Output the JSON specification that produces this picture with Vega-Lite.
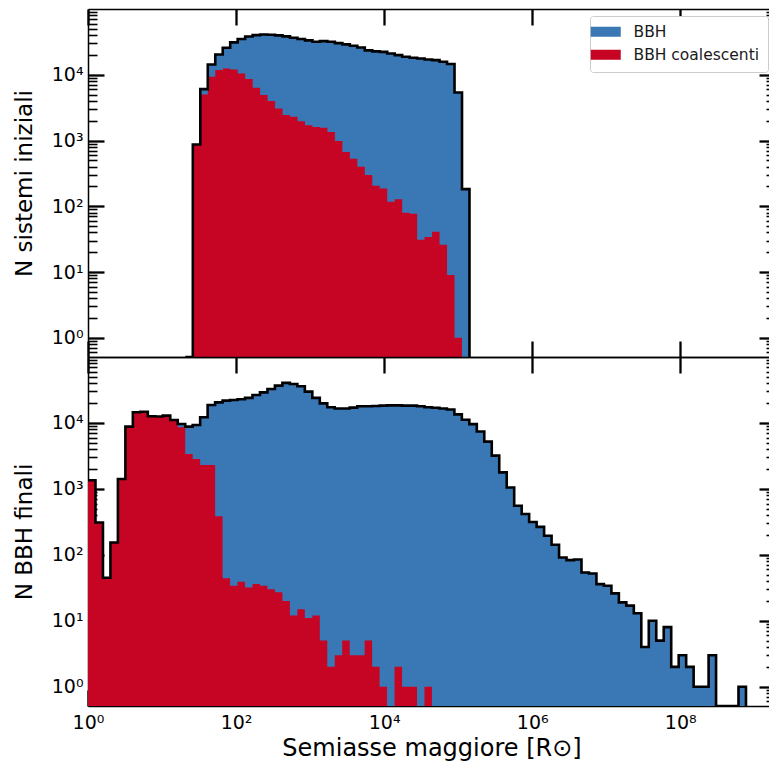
{
  "$schema": "https://vega.github.io/schema/vega-lite/v6.json",
  "padding": {"left": 13, "top": 7, "right": 0, "bottom": 5},
  "background": "white",
  "config": {
    "font": "DejaVu Sans",
    "view": {"stroke": null},
    "axis": {"domainColor": "black", "domainWidth": 1.5, "tickColor": "black", "labelFont": "DejaVu Sans", "titleFont": "DejaVu Sans", "labelFontSize": 19, "titleFontSize": 23, "titleFontWeight": "normal", "grid": false, "labelColor": "black", "titleColor": "black", "labelOverlap": false, "labelFlush": false}
  },
  "datasets": {
    "top": [
      {"k":-1,"lg":1.315,"all":0,"coal":0},
      {"k":0,"lg":1.416,"all":870,"coal":870},
      {"k":1,"lg":1.517,"all":6050,"coal":5000},
      {"k":2,"lg":1.618,"all":14350,"coal":9330},
      {"k":3,"lg":1.719,"all":20370,"coal":11790},
      {"k":4,"lg":1.82,"all":25770,"coal":12490},
      {"k":5,"lg":1.921,"all":31050,"coal":12040},
      {"k":6,"lg":2.022,"all":34900,"coal":10470},
      {"k":7,"lg":2.123,"all":38270,"coal":8600},
      {"k":8,"lg":2.224,"all":40100,"coal":6340},
      {"k":9,"lg":2.325,"all":41000,"coal":4910},
      {"k":10,"lg":2.426,"all":40600,"coal":3980},
      {"k":11,"lg":2.527,"all":39700,"coal":3070},
      {"k":12,"lg":2.628,"all":38300,"coal":2440},
      {"k":13,"lg":2.729,"all":36600,"coal":2300},
      {"k":14,"lg":2.83,"all":35000,"coal":1970},
      {"k":15,"lg":2.931,"all":33300,"coal":1710},
      {"k":16,"lg":3.032,"all":31800,"coal":1600},
      {"k":17,"lg":3.133,"all":32500,"coal":1560},
      {"k":18,"lg":3.234,"all":31800,"coal":1350},
      {"k":19,"lg":3.335,"all":30300,"coal":980},
      {"k":20,"lg":3.436,"all":29000,"coal":670},
      {"k":21,"lg":3.537,"all":27600,"coal":530},
      {"k":22,"lg":3.638,"all":26000,"coal":400},
      {"k":23,"lg":3.739,"all":23500,"coal":300},
      {"k":24,"lg":3.84,"all":22700,"coal":205},
      {"k":25,"lg":3.941,"all":22300,"coal":186},
      {"k":26,"lg":4.042,"all":21100,"coal":117},
      {"k":27,"lg":4.143,"all":19900,"coal":128},
      {"k":28,"lg":4.244,"all":18800,"coal":80},
      {"k":29,"lg":4.345,"all":18150,"coal":77},
      {"k":30,"lg":4.446,"all":17700,"coal":31},
      {"k":31,"lg":4.547,"all":17100,"coal":34},
      {"k":32,"lg":4.648,"all":16700,"coal":41},
      {"k":33,"lg":4.749,"all":15800,"coal":26},
      {"k":34,"lg":4.85,"all":14550,"coal":9},
      {"k":35,"lg":4.951,"all":5380,"coal":1},
      {"k":36,"lg":5.052,"all":182,"coal":0},
      {"k":37,"lg":5.153,"all":0,"coal":0}
    ],
    "bot": [
      {"k":0,"lg":0,"all":1350,"coal":1350},
      {"k":1,"lg":0.101,"all":310,"coal":310},
      {"k":2,"lg":0.202,"all":45,"coal":45},
      {"k":3,"lg":0.303,"all":154,"coal":154},
      {"k":4,"lg":0.404,"all":1410,"coal":1410},
      {"k":5,"lg":0.505,"all":8800,"coal":8800},
      {"k":6,"lg":0.606,"all":14500,"coal":14500},
      {"k":7,"lg":0.707,"all":14800,"coal":14800},
      {"k":8,"lg":0.808,"all":12600,"coal":12600},
      {"k":9,"lg":0.909,"all":12500,"coal":12500},
      {"k":10,"lg":1.01,"all":12900,"coal":12900},
      {"k":11,"lg":1.111,"all":11100,"coal":10800},
      {"k":12,"lg":1.212,"all":9660,"coal":8580},
      {"k":13,"lg":1.313,"all":8800,"coal":3380},
      {"k":14,"lg":1.414,"all":9300,"coal":2840},
      {"k":15,"lg":1.515,"all":12200,"coal":2300},
      {"k":16,"lg":1.616,"all":18700,"coal":2300},
      {"k":17,"lg":1.717,"all":20500,"coal":383},
      {"k":18,"lg":1.818,"all":21800,"coal":44},
      {"k":19,"lg":1.919,"all":22300,"coal":34},
      {"k":20,"lg":2.02,"all":22900,"coal":39},
      {"k":21,"lg":2.121,"all":24000,"coal":32},
      {"k":22,"lg":2.222,"all":26600,"coal":36},
      {"k":23,"lg":2.323,"all":29100,"coal":34},
      {"k":24,"lg":2.424,"all":32700,"coal":30},
      {"k":25,"lg":2.525,"all":36800,"coal":27},
      {"k":26,"lg":2.626,"all":40500,"coal":20},
      {"k":27,"lg":2.727,"all":38900,"coal":12},
      {"k":28,"lg":2.828,"all":36000,"coal":15},
      {"k":29,"lg":2.929,"all":29800,"coal":11},
      {"k":30,"lg":3.03,"all":24000,"coal":12},
      {"k":31,"lg":3.131,"all":19800,"coal":5},
      {"k":32,"lg":3.232,"all":17300,"coal":2},
      {"k":33,"lg":3.333,"all":16600,"coal":3},
      {"k":34,"lg":3.434,"all":16600,"coal":5},
      {"k":35,"lg":3.535,"all":17100,"coal":3},
      {"k":36,"lg":3.636,"all":17900,"coal":3},
      {"k":37,"lg":3.737,"all":17900,"coal":5},
      {"k":38,"lg":3.838,"all":18100,"coal":2},
      {"k":39,"lg":3.939,"all":18300,"coal":1},
      {"k":40,"lg":4.04,"all":18500,"coal":0},
      {"k":41,"lg":4.141,"all":18500,"coal":2},
      {"k":42,"lg":4.242,"all":18300,"coal":1},
      {"k":43,"lg":4.343,"all":18300,"coal":1},
      {"k":44,"lg":4.444,"all":17900,"coal":0},
      {"k":45,"lg":4.545,"all":17300,"coal":1},
      {"k":46,"lg":4.646,"all":17000,"coal":0},
      {"k":47,"lg":4.747,"all":16600,"coal":0},
      {"k":48,"lg":4.848,"all":16000,"coal":0},
      {"k":49,"lg":4.949,"all":13500,"coal":0},
      {"k":50,"lg":5.05,"all":11200,"coal":0},
      {"k":51,"lg":5.151,"all":9600,"coal":0},
      {"k":52,"lg":5.252,"all":7400,"coal":0},
      {"k":53,"lg":5.353,"all":5200,"coal":0},
      {"k":54,"lg":5.454,"all":3200,"coal":0},
      {"k":55,"lg":5.555,"all":1780,"coal":0},
      {"k":56,"lg":5.656,"all":1050,"coal":0},
      {"k":57,"lg":5.757,"all":556,"coal":0},
      {"k":58,"lg":5.858,"all":417,"coal":0},
      {"k":59,"lg":5.959,"all":315,"coal":0},
      {"k":60,"lg":6.06,"all":265,"coal":0},
      {"k":61,"lg":6.161,"all":195,"coal":0},
      {"k":62,"lg":6.262,"all":142,"coal":0},
      {"k":63,"lg":6.363,"all":91,"coal":0},
      {"k":64,"lg":6.464,"all":83,"coal":0},
      {"k":65,"lg":6.565,"all":85,"coal":0},
      {"k":66,"lg":6.666,"all":54,"coal":0},
      {"k":67,"lg":6.767,"all":52,"coal":0},
      {"k":68,"lg":6.868,"all":36,"coal":0},
      {"k":69,"lg":6.969,"all":34,"coal":0},
      {"k":70,"lg":7.07,"all":26,"coal":0},
      {"k":71,"lg":7.171,"all":19,"coal":0},
      {"k":72,"lg":7.272,"all":17,"coal":0},
      {"k":73,"lg":7.373,"all":13,"coal":0},
      {"k":74,"lg":7.474,"all":4,"coal":0},
      {"k":75,"lg":7.575,"all":10,"coal":0},
      {"k":76,"lg":7.676,"all":5,"coal":0},
      {"k":77,"lg":7.777,"all":8,"coal":0},
      {"k":78,"lg":7.878,"all":2,"coal":0},
      {"k":79,"lg":7.979,"all":3,"coal":0},
      {"k":80,"lg":8.08,"all":2,"coal":0},
      {"k":81,"lg":8.181,"all":1,"coal":0},
      {"k":82,"lg":8.282,"all":1,"coal":0},
      {"k":83,"lg":8.383,"all":3,"coal":0},
      {"k":84,"lg":8.484,"all":0,"coal":0},
      {"k":85,"lg":8.585,"all":0,"coal":0},
      {"k":86,"lg":8.686,"all":0,"coal":0},
      {"k":87,"lg":8.787,"all":1,"coal":0},
      {"k":88,"lg":8.888,"all":0,"coal":0}
    ]
  },
  "spacing": 0,
  "bounds": "flush",
  "resolve": {"legend": {"color": "independent"}},
  "vconcat": [
    {
      "width": 687,
      "height": 348,
      "data": {"name": "top"},
      "resolve": {"axis": {"x": "independent", "y": "independent"}},
      "layer": [
        {
          "mark": {"type": "area", "interpolate": "step-after", "clip": true, "opacity": 1},
          "encoding": {
            "x": {"field": "lg", "type": "quantitative", "scale": {"domain": [0, 9.28], "nice": false, "zero": false},
                  "axis": {"orient": "bottom", "values": [0,2,4,6,8], "labels": false, "title": null, "tickSize": -16, "tickWidth": 2.3}},
            "y": {"field": "all", "type": "quantitative", "scale": {"type": "log", "domain": [0.51, 100000], "nice": false, "clamp": true},
                  "axis": {"orient": "left", "values": [0.6,0.7,0.8,0.9,1,2,3,4,5,6,7,8,9,10,20,30,40,50,60,70,80,90,100,200,300,400,500,600,700,800,900,1000,2000,3000,4000,5000,6000,7000,8000,9000,10000,20000,30000,40000,50000,60000,70000,80000,90000],
                           "tickSize": {"condition": {"test": "indexof([1,10,100,1000,10000,100000], datum.value) >= 0", "value": -16}, "value": -9},
                           "tickWidth": {"condition": {"test": "indexof([1,10,100,1000,10000,100000], datum.value) >= 0", "value": 2.3}, "value": 1.6},
                           "labelFontSize": {"condition": {"test": "indexof([1,10,100,1000,10000], datum.value) >= 0", "value": 19}, "value": 0},
                           "labelPadding": 21,
                           "labelExpr": "indexof([1,10,100,1000,10000], datum.value) >= 0 ? '10' + ['⁰','¹','²','³','⁴'][round(log(datum.value)/LN10)] : ''",
                           "title": "N sistemi iniziali", "titlePadding": 15}},
            "y2": {"datum": 0.51},
            "color": {"datum": "BBH", "type": "nominal",
                      "scale": {"domain": ["BBH", "BBH coalescenti"], "range": ["#3a77b5", "#c60525"]},
                      "legend": {"title": null, "orient": "top-right", "offset": 7, "padding": 8, "strokeColor": "#cccccc", "fillColor": "white", "cornerRadius": 3,
                                 "symbolType": "M-2,-0.667H2V0.667H-2Z", "symbolSize": 225, "symbolStrokeWidth": 0, "symbolOpacity": 1,
                                 "labelFontSize": 15.5, "labelFont": "DejaVu Sans", "labelColor": "#1a1a1a", "labelOffset": 20, "rowPadding": 6}}
          }
        },
        {
          "mark": {"type": "area", "interpolate": "step-after", "clip": true, "opacity": 1},
          "encoding": {
            "x": {"field": "lg", "type": "quantitative", "scale": {"domain": [0, 9.28], "nice": false, "zero": false},
                  "axis": {"orient": "top", "values": [0,2,4,6,8], "labels": false, "title": null, "tickSize": -16, "tickWidth": 2.3}},
            "y": {"field": "coal", "type": "quantitative", "scale": {"type": "log", "domain": [0.51, 100000], "nice": false, "clamp": true},
                  "axis": {"orient": "right", "values": [0.6,0.7,0.8,0.9,1,2,3,4,5,6,7,8,9,10,20,30,40,50,60,70,80,90,100,200,300,400,500,600,700,800,900,1000,2000,3000,4000,5000,6000,7000,8000,9000,10000,20000,30000,40000,50000,60000,70000,80000,90000],
                           "tickSize": {"condition": {"test": "indexof([1,10,100,1000,10000,100000], datum.value) >= 0", "value": -16}, "value": -9},
                           "tickWidth": {"condition": {"test": "indexof([1,10,100,1000,10000,100000], datum.value) >= 0", "value": 2.3}, "value": 1.6},
                           "labels": false, "title": null}},
            "y2": {"datum": 0.51},
            "color": {"datum": "BBH coalescenti", "type": "nominal"}
          }
        },
        {
          "mark": {"type": "line", "interpolate": "step-after", "clip": true, "color": "black", "strokeWidth": 2.6},
          "encoding": {
            "x": {"field": "lg", "type": "quantitative", "axis": null},
            "y": {"field": "all", "type": "quantitative", "axis": null},
            "order": {"field": "k", "type": "quantitative"}
          }
        }
      ]
    },
    {
      "width": 687,
      "height": 349,
      "data": {"name": "bot"},
      "resolve": {"axis": {"x": "independent", "y": "independent"}},
      "layer": [
        {
          "mark": {"type": "area", "interpolate": "step-after", "clip": true, "color": "#3a77b5", "opacity": 1},
          "encoding": {
            "x": {"field": "lg", "type": "quantitative", "scale": {"domain": [0, 9.28], "nice": false, "zero": false},
                  "axis": {"orient": "bottom", "values": [0,2,4,6,8], "tickSize": -16, "tickWidth": 2.3, "labelPadding": 23,
                           "labelExpr": "'10' + ['⁰','¹','²','³','⁴','⁵','⁶','⁷','⁸','⁹'][round(datum.value)]",
                           "title": "Semiasse maggiore [R⊙]", "titlePadding": 4, "titleFontSize": 24}},
            "y": {"field": "all", "type": "quantitative", "scale": {"type": "log", "domain": [0.51, 100000], "nice": false, "clamp": true},
                  "axis": {"orient": "left", "values": [0.6,0.7,0.8,0.9,1,2,3,4,5,6,7,8,9,10,20,30,40,50,60,70,80,90,100,200,300,400,500,600,700,800,900,1000,2000,3000,4000,5000,6000,7000,8000,9000,10000,20000,30000,40000,50000,60000,70000,80000,90000],
                           "tickSize": {"condition": {"test": "indexof([1,10,100,1000,10000,100000], datum.value) >= 0", "value": -16}, "value": -9},
                           "tickWidth": {"condition": {"test": "indexof([1,10,100,1000,10000,100000], datum.value) >= 0", "value": 2.3}, "value": 1.6},
                           "labelFontSize": {"condition": {"test": "indexof([1,10,100,1000,10000], datum.value) >= 0", "value": 19}, "value": 0},
                           "labelPadding": 21,
                           "labelExpr": "indexof([1,10,100,1000,10000], datum.value) >= 0 ? '10' + ['⁰','¹','²','³','⁴'][round(log(datum.value)/LN10)] : ''",
                           "title": "N BBH finali", "titlePadding": 15}},
            "y2": {"datum": 0.51}
          }
        },
        {
          "mark": {"type": "area", "interpolate": "step-after", "clip": true, "color": "#c60525", "opacity": 1},
          "encoding": {
            "x": {"field": "lg", "type": "quantitative", "scale": {"domain": [0, 9.28], "nice": false, "zero": false},
                  "axis": {"orient": "top", "values": [0,2,4,6,8], "labels": false, "title": null, "tickSize": -16, "tickWidth": 2.3}},
            "y": {"field": "coal", "type": "quantitative", "scale": {"type": "log", "domain": [0.51, 100000], "nice": false, "clamp": true},
                  "axis": {"orient": "right", "values": [0.6,0.7,0.8,0.9,1,2,3,4,5,6,7,8,9,10,20,30,40,50,60,70,80,90,100,200,300,400,500,600,700,800,900,1000,2000,3000,4000,5000,6000,7000,8000,9000,10000,20000,30000,40000,50000,60000,70000,80000,90000],
                           "tickSize": {"condition": {"test": "indexof([1,10,100,1000,10000,100000], datum.value) >= 0", "value": -16}, "value": -9},
                           "tickWidth": {"condition": {"test": "indexof([1,10,100,1000,10000,100000], datum.value) >= 0", "value": 2.3}, "value": 1.6},
                           "labels": false, "title": null}},
            "y2": {"datum": 0.51}
          }
        },
        {
          "mark": {"type": "line", "interpolate": "step-after", "clip": true, "color": "black", "strokeWidth": 2.6},
          "encoding": {
            "x": {"field": "lg", "type": "quantitative", "axis": null},
            "y": {"field": "all", "type": "quantitative", "axis": null},
            "order": {"field": "k", "type": "quantitative"}
          }
        }
      ]
    }
  ]
}
